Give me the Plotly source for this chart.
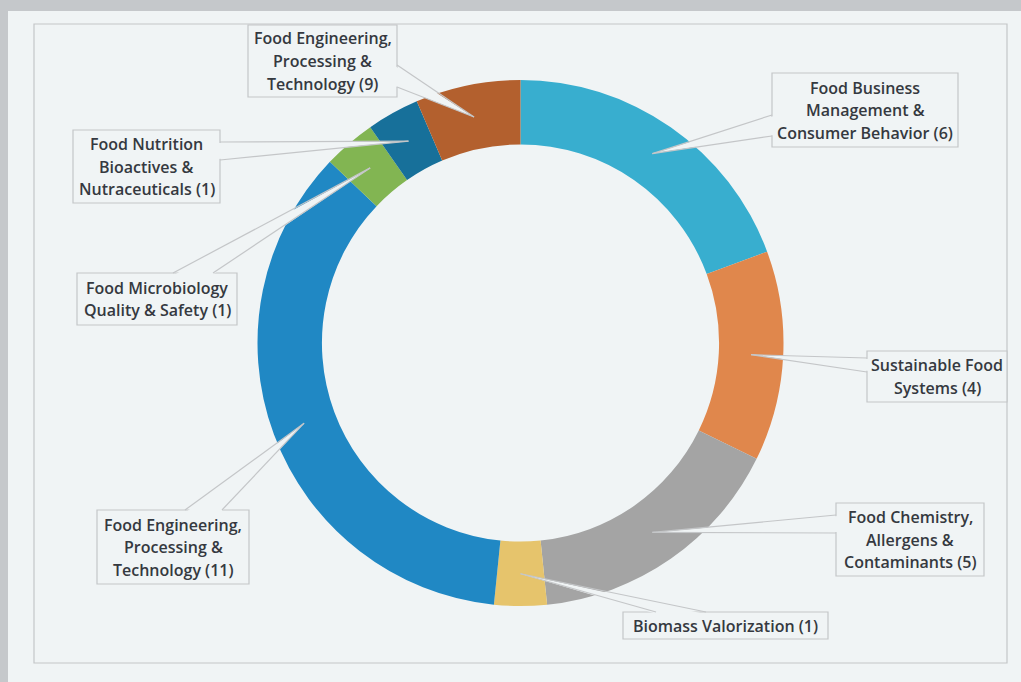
import math
import plotly.graph_objects as go

W, H = 1021, 682
CX, CY, R = 520.5, 343.0, 263.0
HOLE = 0.755

categories = [
    "Food Business Management & Consumer Behavior",
    "Sustainable Food Systems",
    "Food Chemistry, Allergens & Contaminants",
    "Biomass Valorization",
    "Food Engineering, Processing & Technology",
    "Food Microbiology Quality & Safety",
    "Food Nutrition Bioactives & Nutraceuticals",
    "Food Engineering, Processing & Technology (2)",
]
values = [6, 4, 5, 1, 11, 1, 1, 2]
colors = ["#38aecf", "#e0874c", "#a4a4a4", "#e6c46c", "#2088c4", "#82b552", "#17709a", "#b3602e"]
label_lines = [
    ["Food Business", "Management &", "Consumer Behavior (6)"],
    ["Sustainable Food", "Systems (4)"],
    ["Food Chemistry,", "Allergens &", "Contaminants (5)"],
    ["Biomass Valorization (1)"],
    ["Food Engineering,", "Processing &", "Technology (11)"],
    ["Food Microbiology", "Quality & Safety (1)"],
    ["Food Nutrition", "Bioactives &", "Nutraceuticals (1)"],
    ["Food Engineering,", "Processing &", "Technology (9)"],
]

# callout box geometry in pixels (x0, y0, x1, y1) and wedge base points
boxes = [
    (772, 73, 958, 147),
    (867, 351, 1007, 402),
    (836, 503, 984, 576),
    (623, 612, 828, 639),
    (97, 510, 249, 584),
    (77, 273, 237, 325),
    (73, 130, 220, 203),
    (248, 25, 397, 97),
]
bases = [
    ((772, 115), (772, 136)),
    ((867, 358), (867, 372)),
    ((836, 515), (836, 533)),
    ((656, 612), (706, 612)),
    ((185, 510), (222, 510)),
    ((173, 273), (213, 273)),
    ((220, 142), (220, 160)),
    ((397, 65), (397, 87)),
]

PANEL = "#f0f4f5"
BORDER = "#c4c6c8"
TEXT = "#353940"
LINE_H = 22.5


def px(x):
    return x / W


def py(y):
    return 1 - y / H


fig = go.Figure()
fig.add_trace(go.Pie(
    labels=categories,
    values=values,
    marker=dict(colors=colors, line=dict(width=0)),
    hole=HOLE,
    sort=False,
    direction="clockwise",
    rotation=0,
    textinfo="none",
    hoverinfo="label+value",
    showlegend=False,
    domain=dict(x=[px(CX - R), px(CX + R)], y=[py(CY + R), py(CY - R)]),
))

shapes = [
    dict(type="rect", xref="paper", yref="paper", x0=px(8), x1=1.0, y0=0, y1=py(11),
         fillcolor=PANEL, line=dict(width=0), layer="below"),
    dict(type="rect", xref="paper", yref="paper", x0=px(34), x1=px(1007), y0=py(663), y1=py(24),
         fillcolor="rgba(0,0,0,0)", line=dict(color=BORDER, width=1.2), layer="below"),
]
annotations = []

total = sum(values)
cum = 0.0
r_mid = R * (1 + HOLE) / 2
for i, v in enumerate(values):
    mid = (cum + v / 2) / total * 2 * math.pi
    cum += v
    tx = CX + r_mid * math.sin(mid)
    ty = CY - r_mid * math.cos(mid)
    x0, y0, x1, y1 = boxes[i]
    (bx1, by1), (bx2, by2) = bases[i]
    shapes.append(dict(type="rect", xref="paper", yref="paper", x0=px(x0), x1=px(x1), y0=py(y1), y1=py(y0),
                       fillcolor=PANEL, line=dict(color=BORDER, width=1.2), layer="above"))
    # shift base inward to hide box border under the wedge
    if bx1 == bx2:
        d = 2 if abs(bx1 - x0) < abs(bx1 - x1) else -2
        ib1, ib2 = (bx1 + d, by1 + 1), (bx2 + d, by2 - 1)
    else:
        d = 2 if abs(by1 - y0) < abs(by1 - y1) else -2
        ib1, ib2 = (bx1 + 1, by1 + d), (bx2 - 1, by2 + d)
    path = "M {:.5f} {:.5f} L {:.5f} {:.5f} L {:.5f} {:.5f} Z".format(
        px(ib1[0]), py(ib1[1]), px(tx), py(ty), px(ib2[0]), py(ib2[1]))
    shapes.append(dict(type="path", xref="paper", yref="paper", path=path,
                       fillcolor=PANEL, line=dict(width=0), layer="above"))
    for (bx, by) in ((bx1, by1), (bx2, by2)):
        shapes.append(dict(type="line", xref="paper", yref="paper", x0=px(bx), y0=py(by), x1=px(tx), y1=py(ty),
                           line=dict(color=BORDER, width=1.2), layer="above"))
    lines = label_lines[i]
    cy_box = (y0 + y1) / 2
    n = len(lines)
    for k, t in enumerate(lines):
        ly = cy_box + (k - (n - 1) / 2) * LINE_H
        annotations.append(dict(x=px((x0 + x1) / 2), y=py(ly), xref="paper", yref="paper",
                                text=t, showarrow=False, xanchor="center", yanchor="middle",
                                font=dict(family="Open Sans", size=16, color=TEXT, weight=600)))

fig.update_layout(
    width=W, height=H,
    margin=dict(l=0, r=0, t=0, b=0),
    paper_bgcolor="#c5c8cb",
    plot_bgcolor=PANEL,
    shapes=shapes,
    annotations=annotations,
)
fig.write_html(
    "out.html",
    config={"displayModeBar": False},
    post_script="document.body.style.margin='0px';document.body.style.padding='0px';"
                "document.body.style.background='#c5c8cb';document.body.style.overflow='hidden';",
)
